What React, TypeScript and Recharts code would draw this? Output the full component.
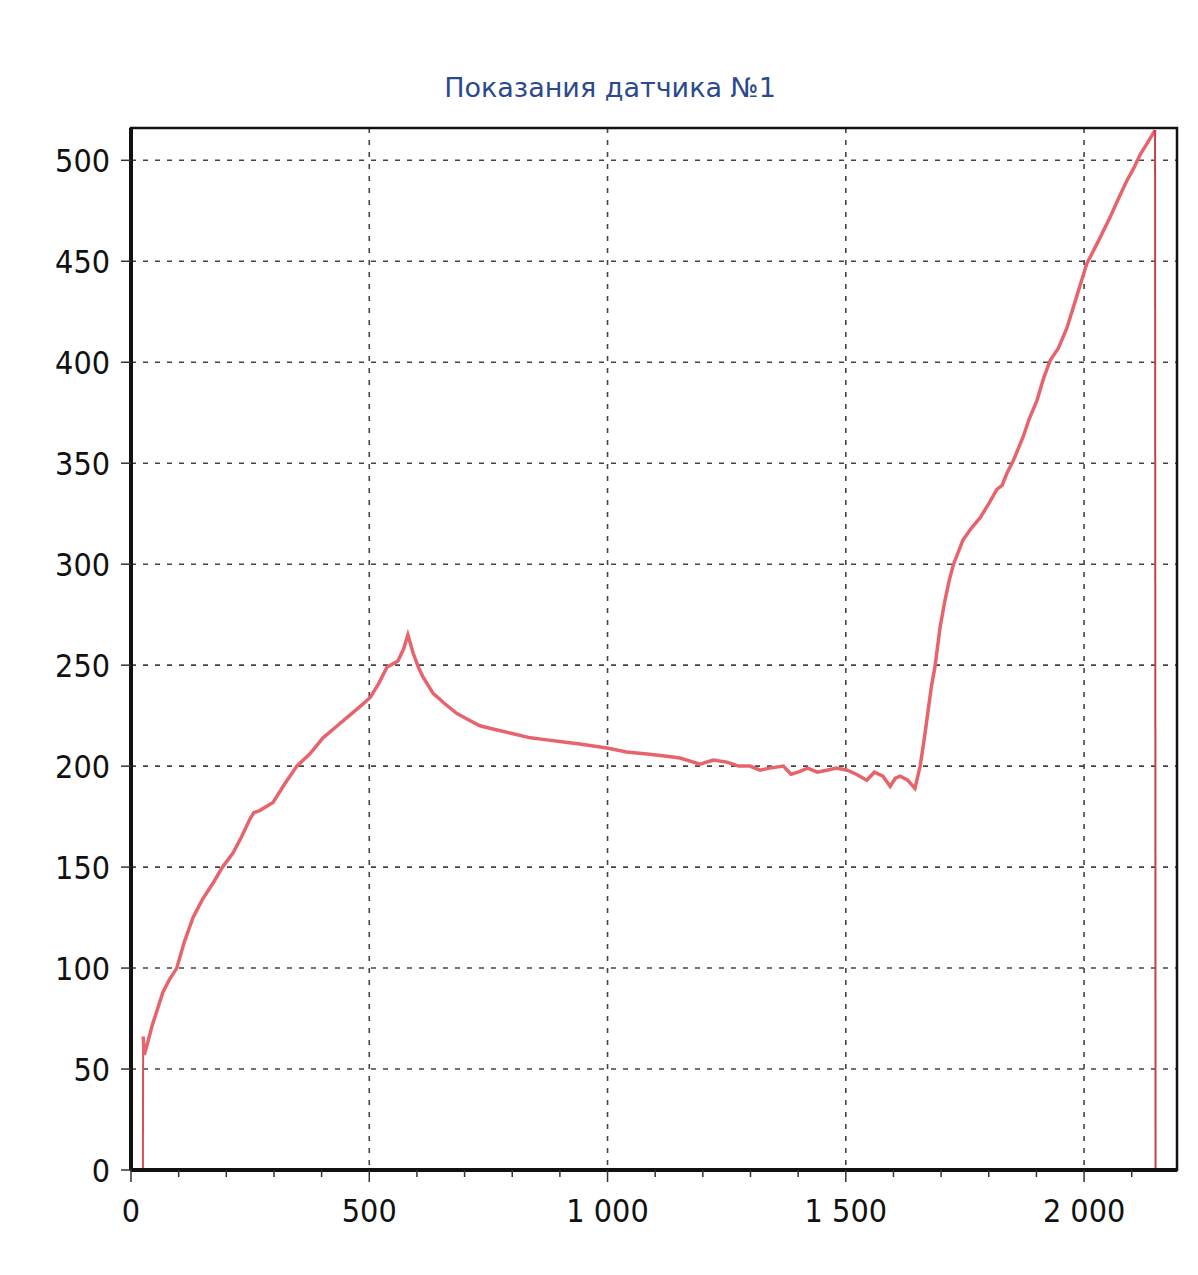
import {
  LineChart,
  Line,
  XAxis,
  YAxis,
  CartesianGrid,
  ReferenceArea,
} from "recharts";

// readings of sensor #1
const times = [
  25.5, 28, 36, 45, 56, 67, 80, 96, 112, 130, 150, 172, 192, 214, 232, 250,
  258, 270, 298, 322, 348, 375, 403, 428, 453, 478, 502, 520, 537, 560, 572, 581,
  592, 603, 613, 634, 658, 684, 708, 732, 766, 802, 838, 873, 908, 942, 970,
  999, 1040, 1083, 1120, 1152, 1194, 1222, 1250, 1275, 1299, 1320, 1340, 1369,
  1385, 1400, 1420, 1440, 1460, 1480, 1503, 1522, 1544, 1560, 1578, 1593, 1604,
  1614, 1630, 1645, 1656, 1665, 1673, 1680, 1687, 1698, 1708, 1717, 1726, 1746,
  1764, 1782, 1800, 1817, 1828, 1838, 1851, 1872, 1885, 1901, 1915, 1929, 1946,
  1964, 1985, 2006, 2030, 2055, 2072, 2090, 2104, 2118, 2134, 2149,
];
const values = [
  66, 57, 64, 72, 80, 88, 94, 100, 113, 125, 134, 142, 150, 157, 165, 174,
  177, 178, 182, 191, 200, 206, 214, 219, 224, 229, 234, 241, 249, 252, 258, 265,
  256, 249, 244, 236, 231, 226, 223, 220, 218, 216, 214, 213, 212, 211, 210,
  209, 207, 206, 205, 204, 201, 203, 202, 200, 200, 198, 199, 200, 196, 197,
  199, 197, 198, 199, 198, 196, 193, 197, 195, 190, 194, 195, 193, 189, 200,
  214, 228, 240, 249, 269, 282, 292, 300, 312, 318, 323, 330, 337, 339, 345,
  351, 363, 372, 381, 392, 401, 407, 417, 433, 449, 460, 472, 481, 490, 496,
  503, 509, 515,
];

// sensor switched on / off: thin vertical jumps at both ends
const startTimes = [25, 25.5];
const startValues = [0, 66];
const endTimes = [2149, 2150];
const endValues = [515, 0];

const xTicks = [0, 100, 200, 300, 400, 500, 600, 700, 800, 900, 1000, 1100, 1200, 1300, 1400, 1500, 1600, 1700, 1800, 1900, 2000, 2100];
const xLabels = [0, 500, 1000, 1500, 2000];
const yTicks = [0, 50, 100, 150, 200, 250, 300, 350, 400, 450, 500];
const xMax = 2195;
const yMax = 516;

const data = times.map((t, i) => ({ t, v: values[i] }));
const startData = startTimes.map((t, i) => ({ t, v: startValues[i] }));
const endData = endTimes.map((t, i) => ({ t, v: endValues[i] }));

const fmt = (n: number) =>
  n >= 1000 ? `${Math.floor(n / 1000)} ${String(n % 1000).padStart(3, "0")}` : String(n);

const tickFont = "'DejaVu Sans Condensed', 'Liberation Sans', sans-serif";

function XTick(props: any) {
  const { x, y, payload } = props;
  const major = xLabels.includes(payload.value);
  return (
    <g>
      <line x1={x} x2={x} y1={y} y2={y + (major ? 12 : 7)} stroke="#333" strokeWidth={1.5} />
      {major && (
        <text x={x} y={y + 52} textAnchor="middle" fontSize={32} fontFamily={tickFont} fill="#111">
          {fmt(payload.value)}
        </text>
      )}
    </g>
  );
}

function YTick(props: any) {
  const { x, y, payload } = props;
  return (
    <g>
      <line x1={x - 10} x2={x} y1={y} y2={y} stroke="#333" strokeWidth={1.5} />
      <text x={x - 21} y={y + 12} textAnchor="end" fontSize={32} fontFamily={tickFont} fill="#111">
        {payload.value}
      </text>
    </g>
  );
}

export default function App() {
  return (
    <div style={{ position: "absolute", left: 0, top: 0, width: 1198, height: 1275, background: "#fff" }}>
      <div
        style={{
          position: "absolute",
          left: 0,
          width: 1198,
          top: 72,
          textAlign: "center",
          fontFamily: "'DejaVu Sans', sans-serif",
          fontSize: 27,
          color: "#2b4a8b",
          paddingLeft: 22,
          boxSizing: "border-box",
        }}
      >
        Показания датчика №1
      </div>
      <LineChart
        width={1198}
        height={1275}
        margin={{ top: 128, right: 21, bottom: 45, left: 0 }}
      >
        <CartesianGrid
          stroke="#444"
          strokeWidth={1.6}
          strokeDasharray="5 7"
          verticalValues={xLabels}
          horizontalValues={yTicks}
        />
        <XAxis
          type="number"
          dataKey="t"
          domain={[0, xMax]}
          ticks={xTicks}
          interval={0}
          height={60}
          tickSize={0}
          tickMargin={0}
          tickLine={false}
          tick={<XTick />}
          axisLine={{ stroke: "#111", strokeWidth: 4 }}
          allowDataOverflow
        />
        <YAxis
          type="number"
          domain={[0, yMax]}
          ticks={yTicks}
          interval={0}
          width={131}
          tickSize={0}
          tickMargin={0}
          tickLine={false}
          tick={<YTick />}
          axisLine={{ stroke: "#111", strokeWidth: 4 }}
          allowDataOverflow
        />
        <Line
          data={startData}
          type="linear"
          dataKey="v"
          stroke="#d9505a"
          strokeWidth={2}
          dot={false}
          isAnimationActive={false}
        />
        <Line
          data={data}
          type="linear"
          dataKey="v"
          stroke="#e8646d"
          strokeWidth={3.5}
          dot={false}
          isAnimationActive={false}
        />
        <Line
          data={endData}
          type="linear"
          dataKey="v"
          stroke="#c8404a"
          strokeWidth={2}
          dot={false}
          isAnimationActive={false}
        />
        <ReferenceArea x1={0} x2={xMax} y1={0} y2={yMax} fill="none" stroke="#111" strokeWidth={2.5} />
      </LineChart>
    </div>
  );
}
